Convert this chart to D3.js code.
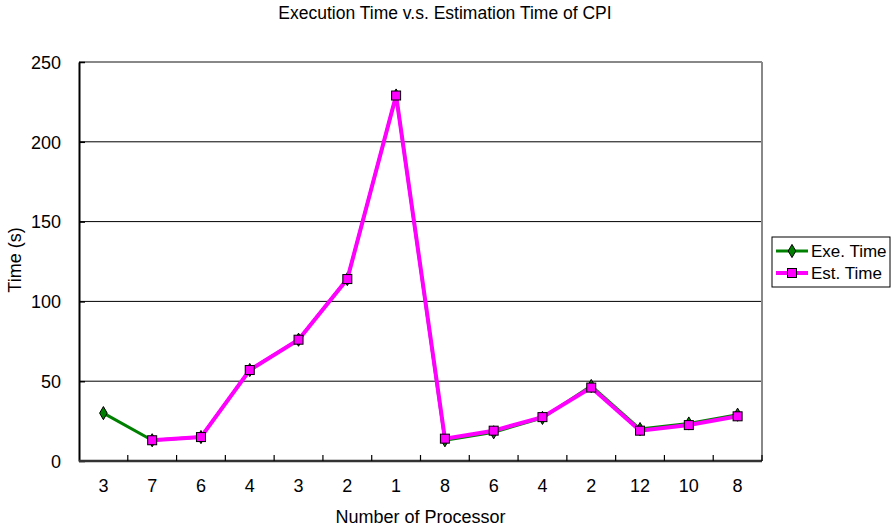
<!DOCTYPE html>
<html>
<head>
<meta charset="utf-8">
<script src="https://cdn.jsdelivr.net/npm/d3@7"></script>
<style>
  body { margin: 0; background: #fff; }
  text { font-family: "Liberation Sans", Arial, sans-serif; fill: #000; }
</style>
</head>
<body>
<div id="chart"></div>
<script>
// data
var processors = ["3", "7", "6", "4", "3", "2", "1", "8", "6", "4", "2", "12", "10", "8"];
var exeTime = [30, 13, 15, 57, 76, 114, 229, 13, 18, 27, 47, 20, 23.5, 29];
var estTime = [null, 13, 15, 57, 76, 114, 229, 14, 19, 27.5, 46, 19, 22.5, 28];
var yTicks = [0, 50, 100, 150, 200, 250];

var svgWidth = 894;
var svgHeight = 528;

var margin = { top: 62, right: 132, bottom: 67, left: 79 };
var width = svgWidth - margin.left - margin.right;
var height = svgHeight - margin.top - margin.bottom;

var svg = d3.select("#chart")
  .append("svg")
  .attr("width", svgWidth)
  .attr("height", svgHeight);

var chartGroup = svg.append("g")
  .attr("transform", `translate(${margin.left}, ${margin.top})`);

// scales
var xScale = d3.scaleBand()
  .domain(d3.range(processors.length))
  .range([0, width]);

var yScale = d3.scaleLinear()
  .domain([0, 250])
  .range([height, 0]);

// gridlines
chartGroup.selectAll(".grid")
  .data(yTicks.filter(d => d > 0 && d < 250))
  .enter()
  .append("line")
  .attr("x1", 0)
  .attr("x2", width)
  .attr("y1", d => yScale(d))
  .attr("y2", d => yScale(d))
  .attr("stroke", "#000")
  .attr("stroke-width", 1);

// top and right border
chartGroup.append("line")
  .attr("x1", 0).attr("x2", width)
  .attr("y1", 0).attr("y2", 0)
  .attr("stroke", "#888").attr("stroke-width", 2);
chartGroup.append("line")
  .attr("x1", width).attr("x2", width)
  .attr("y1", 0).attr("y2", height)
  .attr("stroke", "#888").attr("stroke-width", 2);

// y axis
var leftAxis = d3.axisLeft(yScale)
  .tickValues(yTicks)
  .tickSizeInner(-6)
  .tickSizeOuter(0)
  .tickPadding(18);
var yAxis = chartGroup.append("g").call(leftAxis);
yAxis.select(".domain").attr("stroke", "#000").attr("stroke-width", 2);
yAxis.selectAll(".tick line").attr("stroke", "#000").attr("stroke-width", 1.5);
yAxis.selectAll("text").style("font-size", "18px").attr("dy", "0.35em");

// x axis: ticks sit on the category borders
var xAxis = chartGroup.append("g")
  .attr("transform", `translate(0, ${height})`);
xAxis.append("line")
  .attr("x1", 0).attr("x2", width)
  .attr("stroke", "#333").attr("stroke-width", 2.5);
xAxis.selectAll(".xtick")
  .data(d3.range(1, processors.length + 1))
  .enter()
  .append("line")
  .attr("x1", d => xScale.step() * d)
  .attr("x2", d => xScale.step() * d)
  .attr("y1", 0).attr("y2", -6)
  .attr("stroke", "#000").attr("stroke-width", 1.2);
xAxis.selectAll(".xlabel")
  .data(processors)
  .enter()
  .append("text")
  .attr("x", (d, i) => xScale(i) + xScale.bandwidth() / 2)
  .attr("y", 31)
  .attr("text-anchor", "middle")
  .style("font-size", "18px")
  .text(d => d);

var cx = i => xScale(i) + xScale.bandwidth() / 2;

// exe time line
var exeLine = d3.line()
  .defined(d => d != null)
  .x((d, i) => cx(i))
  .y(d => yScale(d));

chartGroup.append("path")
  .datum(exeTime)
  .attr("d", exeLine)
  .attr("fill", "none")
  .attr("stroke", "#008000")
  .attr("stroke-width", 3);

chartGroup.selectAll(".exe")
  .data(exeTime)
  .enter()
  .append("path")
  .attr("d", d3.symbol(d3.symbolDiamond, 50))
  .attr("transform", (d, i) => `translate(${cx(i)}, ${yScale(d)})`)
  .attr("fill", "#008000")
  .attr("stroke", "#000")
  .attr("stroke-width", 1);

// est time line
chartGroup.append("path")
  .datum(estTime)
  .attr("d", exeLine)
  .attr("fill", "none")
  .attr("stroke", "#ff00ff")
  .attr("stroke-width", 4);

chartGroup.selectAll(".est")
  .data(estTime.map((d, i) => [d, i]).filter(d => d[0] != null))
  .enter()
  .append("rect")
  .attr("x", d => cx(d[1]) - 4.5)
  .attr("y", d => yScale(d[0]) - 4.5)
  .attr("width", 9)
  .attr("height", 9)
  .attr("fill", "#ff00ff")
  .attr("stroke", "#000")
  .attr("stroke-width", 1);

// titles
svg.append("text")
  .attr("x", 445)
  .attr("y", 19)
  .attr("text-anchor", "middle")
  .style("font-size", "17.5px")
  .text("Execution Time v.s. Estimation Time of CPI");

svg.append("text")
  .attr("x", margin.left + width / 2)
  .attr("y", 523)
  .attr("text-anchor", "middle")
  .style("font-size", "18px")
  .text("Number of Processor");

svg.append("text")
  .attr("transform", "translate(21, 260) rotate(-90)")
  .attr("text-anchor", "middle")
  .style("font-size", "18px")
  .text("Time (s)");

// legend
var legend = svg.append("g").attr("transform", "translate(772, 237)");
legend.append("rect")
  .attr("width", 118).attr("height", 50)
  .attr("fill", "#fff").attr("stroke", "#000").attr("stroke-width", 1);

var legendItems = [
  { name: "Exe. Time", color: "#008000", width: 3, marker: "diamond" },
  { name: "Est. Time", color: "#ff00ff", width: 4, marker: "square" }
];

legendItems.forEach(function(item, i) {
  var y = 14 + i * 22;
  legend.append("line")
    .attr("x1", 4).attr("x2", 36)
    .attr("y1", y).attr("y2", y)
    .attr("stroke", item.color).attr("stroke-width", item.width);
  if (item.marker === "diamond") {
    legend.append("path")
      .attr("d", d3.symbol(d3.symbolDiamond, 50))
      .attr("transform", `translate(20, ${y})`)
      .attr("fill", item.color).attr("stroke", "#000");
  } else {
    legend.append("rect")
      .attr("x", 15.5).attr("y", y - 4.5)
      .attr("width", 9).attr("height", 9)
      .attr("fill", item.color).attr("stroke", "#000");
  }
  legend.append("text")
    .attr("x", 39)
    .attr("y", y + 6)
    .style("font-size", "17px")
    .text(item.name);
});
</script>
</body>
</html>
